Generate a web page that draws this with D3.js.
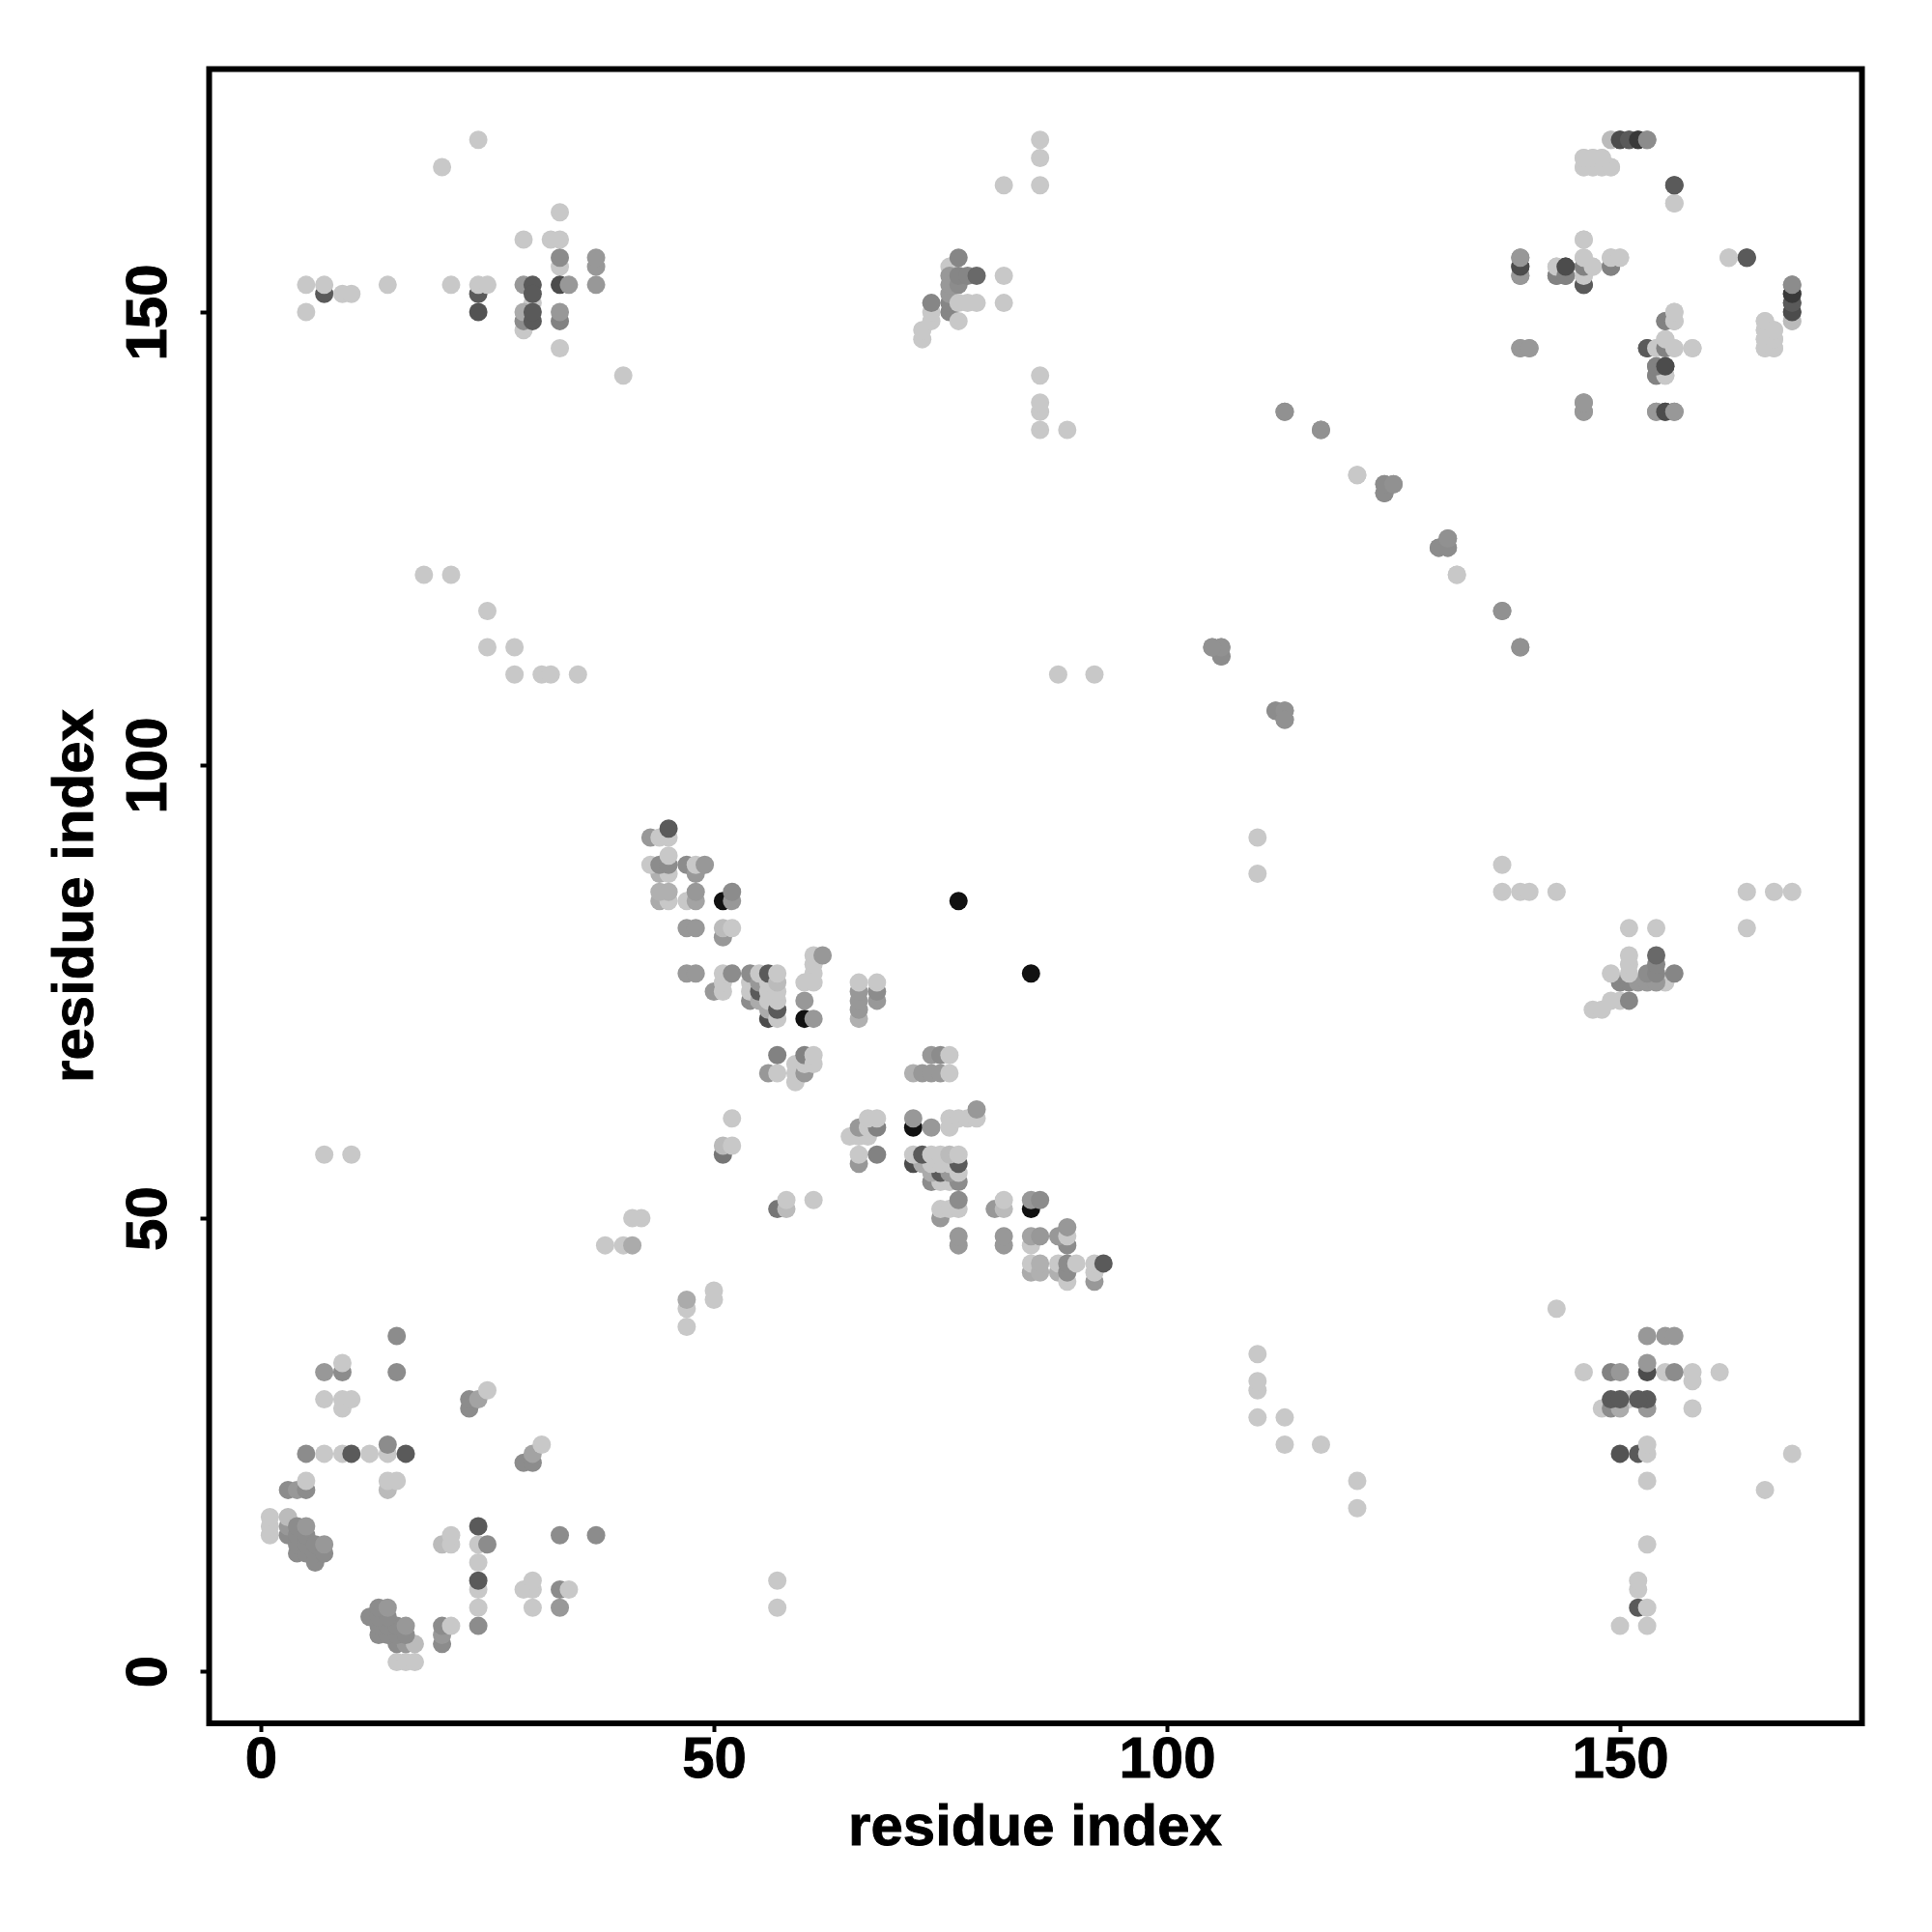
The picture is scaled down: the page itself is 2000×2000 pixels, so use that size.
<!DOCTYPE html>
<html>
<head>
<meta charset="utf-8">
<script src="https://cdn.jsdelivr.net/npm/d3@7"></script>
<style>html,body{margin:0;padding:0;background:#fff}</style>
</head>
<body>
<script>
// Contacts [residue i, residue j, strength 0-100]; every contact is plotted on both sides of the diagonal.
const nTermCluster = [
[1,15,0],[1,16,0],[1,17,0],[3,15,33],[3,16,26],[3,17,7],[4,13,33],[4,14,33],[4,15,33],[4,16,33],
[5,13,33],[5,14,33],[5,15,33],[5,16,26],[6,12,33],[6,13,33],[6,14,33],[7,13,33],[7,14,26],
[3,20,33],[4,20,26],[5,20,33],[5,21,0],[5,24,33],[7,24,0],[9,24,0],[10,24,60],[12,24,0],[14,24,0],[16,24,60],[14,25,33],
[14,20,7],[14,21,0],[15,21,0],[9,29,0],[7,30,0],[9,30,0],[10,30,0],[7,33,26],[9,33,33],[9,34,0],[15,33,33],[15,37,33],
[23,29,33],[23,30,33],[24,30,20],[25,31,0],[57,7,0],[57,10,0]
];
const centralArm = [
[38,47,0],[40,47,0],[41,47,16],[41,50,0],[42,50,0],
[43,92,26],[44,92,0],[45,92,0],[45,93,60],[44,88,13],[45,88,0],[43,89,0],[44,89,33],[45,89,33],[45,90,0],
[47,89,33],[48,88,26],[48,89,0],[49,89,26],[44,85,16],[45,85,0],[44,86,13],[45,86,13],[47,85,0],[48,85,20],[48,86,26],
[51,85,100],[52,85,26],[52,86,33],[47,82,26],[48,82,26],[51,81,26],[51,82,7],[52,82,0],[47,77,26],[48,77,26],
[50,75,26],[51,75,0],[51,76,0],[51,77,0],[52,77,33],[54,74,33],[54,75,0],[54,76,0],[54,77,33],
[55,74,16],[55,75,60],[55,76,26],[55,77,0],[56,72,68],[56,73,16],[56,74,0],[56,75,0],[56,76,0],[56,77,60],
[57,72,0],[57,73,60],[57,74,0],[57,75,0],[57,76,7],[57,77,0],
[60,72,100],[61,72,26],[60,74,26],[60,76,0],[61,76,0],[61,77,0],[61,78,0],[61,79,0],[62,79,26],
[66,72,13],[66,73,26],[66,74,26],[66,75,26],[66,76,0],[68,74,26],[68,75,33],[68,76,0],
[56,66,26],[57,66,0],[57,68,38],[59,65,0],[59,66,0],[59,67,0],[60,66,26],[60,67,0],[60,68,38],[61,67,0],[61,68,0],
[51,57,45],[51,58,7],[52,58,0],[52,61,0],[77,85,100]
];
const upperBlockLeft = [
[20,166,0],[24,169,0],[33,161,0],[29,158,0],[32,158,0],[33,158,0],[33,155,0],[33,156,33],[37,155,26],[37,156,26],
[5,153,0],[7,152,60],[7,153,0],[14,153,0],[21,153,0],[24,152,60],[24,153,0],[25,153,0],
[29,153,26],[30,153,60],[30,151,0],[30,152,60],[33,153,68],[34,153,26],[37,153,26],
[9,152,0],[10,152,0],[5,150,0],[24,150,64],[29,148,0],[29,149,33],[29,150,16],[30,149,60],[30,150,60],
[33,149,38],[33,150,26],[33,146,0],[40,143,0]
];
const upperBlockMiddle = [
[73,147,0],[73,148,0],[74,149,0],[74,150,0],[74,151,36],[76,150,36],[76,151,36],[76,152,26],[76,153,26],[76,155,0],
[76,154,26],[77,153,33],[77,154,36],[78,154,36],[79,154,52],[77,156,36],[77,149,0],[77,151,0],[78,151,0],[79,151,0],
[82,151,0],[82,154,0],[82,164,0],[86,164,0],[86,167,0],[86,169,0],[86,137,0],[86,139,0],[86,140,0],[86,143,0],[89,137,0],
[88,110,0],[92,110,0]
];
const upperBlockRight = [
[149,169,0],[150,169,68],[151,169,60],[152,169,68],[153,169,33],
[146,166,0],[147,166,0],[148,166,0],[149,166,0],[146,167,0],[147,167,0],[148,167,0],
[143,154,33],[144,154,38],[143,155,0],[144,155,68],[146,153,60],[146,154,0],[146,155,38],[146,156,0],[147,155,0],[146,158,0],
[149,155,38],[149,156,7],[150,156,0],[139,154,33],[139,155,60],[139,156,38],[139,146,26],[140,146,26],[146,139,26],[146,140,26],
[153,146,60],[154,146,0],[155,146,38],[155,147,0],[156,146,0],[158,146,0],[154,143,38],[155,143,0],[154,144,38],[155,144,68],
[155,149,38],[156,149,0],[156,150,0],[154,139,26],[155,139,68],[156,139,26],[156,162,0],[156,164,60],[162,156,0],[164,156,60],
[166,146,0],[166,147,0],[166,148,0],[166,149,0],[167,146,0],[167,147,0],[167,148,0],
[169,149,7],[169,150,68],[169,151,60],[169,152,78],[169,153,33]
];
const antiDiagonal = [
[18,121,0],[21,121,0],[25,117,0],[25,113,0],[28,113,0],[28,110,0],[31,110,0],[32,110,0],[35,110,0],
[105,113,30],[106,113,30],[106,112,33],[112,106,33],[113,106,30],[113,105,30],[113,139,30],[117,137,30],[121,132,0],
[124,130,33],[124,131,30],[125,131,30],[130,124,33],[131,124,33],[131,125,30],[132,121,0],[137,117,30],[139,113,30]
];
const rightBlockLow = [
[147,73,0],[148,73,0],[149,74,0],[150,74,0],[151,74,26]
];
const xTickValues = [0,50,100,150];
const yTickValues = [0,50,100,150];
const axisTitle = "residue index";

const contacts = [...nTermCluster, ...antiDiagonal, ...centralArm, ...upperBlockLeft, ...upperBlockMiddle, ...upperBlockRight];
const points = contacts.flatMap(([i,j,s]) => [{x:i,y:j,s},{x:j,y:i,s}]);

const W = 2000, H = 2000;
const box = {left:216.5, right:1927.5, top:71.5, bottom:1784};
const x = d3.scaleLinear().domain([0,150]).range([270,1677]);
const y = d3.scaleLinear().domain([0,150]).range([1730,323]);
const shade = d3.scaleLinear().domain([0,100]).range(["#c8c8c8","#111111"]);
const fontStack = "'Liberation Sans', Arial, sans-serif";
const labelStyle = sel => sel.style("font-size","60px").style("font-weight","bold")
  .style("font-family",fontStack).attr("fill","#000").attr("stroke","#000").attr("stroke-width",0.9);

const svg = d3.select("body").append("svg").attr("width",W).attr("height",H)
  .style("display","block").style("font-family",fontStack);
svg.append("rect").attr("width",W).attr("height",H).attr("fill","#fff");

svg.append("g").selectAll("circle").data(points).join("circle")
  .attr("cx",d=>x(d.x)).attr("cy",d=>y(d.y)).attr("r",9.5).attr("fill",d=>shade(d.s));

const xAxis = svg.append("g").attr("transform",`translate(0,${box.bottom})`)
  .call(d3.axisBottom(x).tickValues(xTickValues).tickSize(9).tickPadding(0));
xAxis.select(".domain").remove();
xAxis.selectAll("line").attr("stroke","#000").attr("stroke-width",4);
xAxis.selectAll("text").attr("y",56).attr("dy",0).call(labelStyle);

const yAxis = svg.append("g").attr("transform",`translate(${box.left},0)`)
  .call(d3.axisLeft(y).tickValues(yTickValues).tickSize(9).tickPadding(0));
yAxis.select(".domain").remove();
yAxis.selectAll("line").attr("stroke","#000").attr("stroke-width",4);
yAxis.selectAll("text").attr("x",null).attr("dy",0)
  .attr("text-anchor","middle")
  .attr("transform","translate(-44.5,0) rotate(-90)").call(labelStyle);

svg.append("rect").attr("x",box.left).attr("y",box.top)
  .attr("width",box.right-box.left).attr("height",box.bottom-box.top)
  .attr("fill","none").attr("stroke","#000").attr("stroke-width",6);

svg.append("text").attr("x",1071.5).attr("y",1910).attr("text-anchor","middle").text(axisTitle).call(labelStyle);
svg.append("text").attr("transform","translate(96,927.5) rotate(-90)").attr("text-anchor","middle").text(axisTitle).call(labelStyle);
</script>
</body>
</html>
